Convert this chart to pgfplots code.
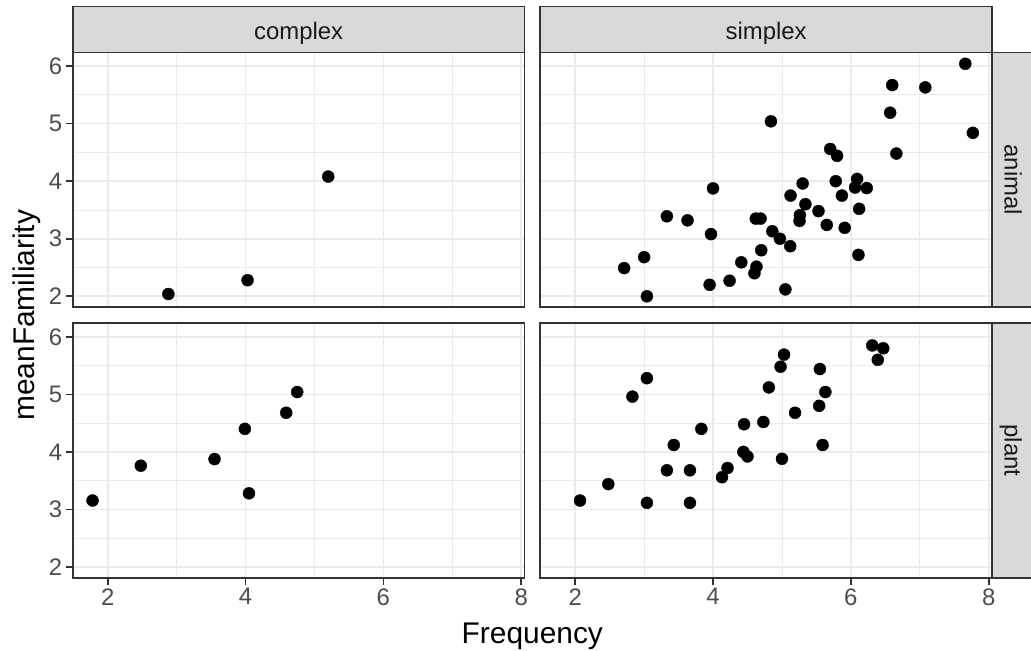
\documentclass[border=0pt]{standalone}
\usepackage{fontspec}
\setmainfont{Liberation Sans}
\usepackage{pgfplots}
\usepackage{pgfplotstable}
\pgfplotsset{compat=1.18}

\definecolor{grey10}{HTML}{1A1A1A}
\definecolor{grey20}{HTML}{333333}
\definecolor{grey30}{HTML}{4D4D4D}
\definecolor{grey85}{HTML}{D9D9D9}
\definecolor{grey92}{HTML}{EBEBEB}

% Frequency vs. mean familiarity, split by morphology (columns) and category (rows)
\pgfplotstableread{
x y
2.88 2.04
4.03 2.28
5.20 4.08
}\complexanimal

\pgfplotstableread{
x y
1.78 3.155
2.48 3.76
3.55 3.875
3.99 4.40
4.05 3.28
4.59 4.68
4.75 5.04
}\complexplant

\pgfplotstableread{
x y
7.66 6.04
6.60 5.67
7.08 5.63
6.57 5.19
4.84 5.04
7.77 4.84
5.70 4.56
5.80 4.44
6.66 4.48
4.00 3.875
5.30 3.96
5.78 4.00
6.09 4.04
6.06 3.89
6.23 3.88
5.125 3.75
5.87 3.75
5.34 3.60
6.12 3.52
5.53 3.48
3.33 3.39
3.63 3.32
4.62 3.35
4.69 3.35
5.26 3.41
5.255 3.31
5.65 3.24
5.91 3.19
3.97 3.08
4.86 3.13
4.97 3.00
5.12 2.87
4.70 2.80
6.11 2.72
3.00 2.68
2.71 2.49
4.41 2.59
4.63 2.515
4.60 2.40
4.24 2.27
3.95 2.20
5.05 2.12
3.04 2.00
}\simplexanimal

\pgfplotstableread{
x y
6.31 5.85
6.47 5.80
6.39 5.60
5.03 5.69
4.98 5.48
5.55 5.44
3.04 5.28
2.83 4.96
4.81 5.12
5.63 5.04
5.54 4.80
5.19 4.68
4.73 4.52
4.45 4.48
3.83 4.40
3.43 4.12
5.59 4.12
4.44 4.00
4.50 3.92
5.00 3.88
3.33 3.68
3.665 3.68
4.21 3.72
4.13 3.56
2.48 3.44
2.07 3.155
3.04 3.115
3.665 3.115
}\simplexplant

\pgfplotsset{
  facet/.style={
    anchor=south west,
    scale only axis,
    width=451.8bp, height=254.8bp,
    xmin=1.492, xmax=8.048, ymin=1.809, ymax=6.236,
    xtick={2,4,6,8}, minor xtick={3,5,7},
    ytick={2,3,4,5,6}, minor ytick={2.5,3.5,4.5,5.5},
    xmajorgrids, ymajorgrids, xminorgrids, yminorgrids,
    major grid style={grey92, line width=1.6bp},
    minor grid style={grey92, line width=0.8bp},
    axis line style={grey20, line width=1.6bp},
    tick align=outside,
    major tick length=7bp, minor tick length=0bp,
    tick style={grey20, line width=1.6bp},
    xtick pos=bottom, ytick pos=left,
    tick label style={font=\fontsize{24}{28}\selectfont, text=grey30},
    /pgf/number format/assume math mode=true,
  },
  nox/.style={xmajorticks=false, xticklabels={}},
  noy/.style={ymajorticks=false, yticklabels={}},
  pts/.style={only marks, mark=*, mark size=6bp,
    mark options={fill=black, draw=none}},
}

\begin{document}
\begin{tikzpicture}[x=1bp, y=1bp]
\path[use as bounding box] (0,0) rectangle (1031,651);

% complex / animal
\begin{axis}[facet, nox, at={(72.7bp,343.7bp)}]
\addplot[pts] table {\complexanimal};
\end{axis}
% simplex / animal
\begin{axis}[facet, nox, noy, at={(540.2bp,343.7bp)}]
\addplot[pts] table {\simplexanimal};
\end{axis}
% complex / plant
\begin{axis}[facet, at={(72.7bp,73bp)}]
\addplot[pts] table {\complexplant};
\end{axis}
% simplex / plant
\begin{axis}[facet, noy, at={(540.2bp,73bp)}]
\addplot[pts] table {\simplexplant};
\end{axis}

% facet strips
\begin{scope}[line width=1.6bp]
\filldraw[fill=grey85, draw=grey20] (72.7,598.5) rectangle (524.5,644.3);
\filldraw[fill=grey85, draw=grey20] (540.2,598.5) rectangle (992,644.3);
\filldraw[fill=grey85, draw=grey20] (992,343.7) rectangle (1040,598.5);
\filldraw[fill=grey85, draw=grey20] (992,73) rectangle (1040,327.8);
\end{scope}
\begin{scope}[every node/.style={font=\fontsize{24}{28}\selectfont, text=grey10, inner sep=0pt}]
\node[anchor=base] at (298.6,611.7) {complex};
\node[anchor=base] at (766.1,611.7) {simplex};
\node[anchor=base, rotate=-90] at (1004.5,471.1) {animal};
\node[anchor=base, rotate=-90] at (1004.5,200.4) {plant};
\end{scope}

% axis titles
\node[anchor=base, font=\fontsize{30}{36}\selectfont, inner sep=0pt] at (532.3,7.7) {Frequency};
\node[anchor=base, rotate=90, font=\fontsize{30}{36}\selectfont, inner sep=0pt] at (34,335.8) {meanFamiliarity};
\end{tikzpicture}
\end{document}
